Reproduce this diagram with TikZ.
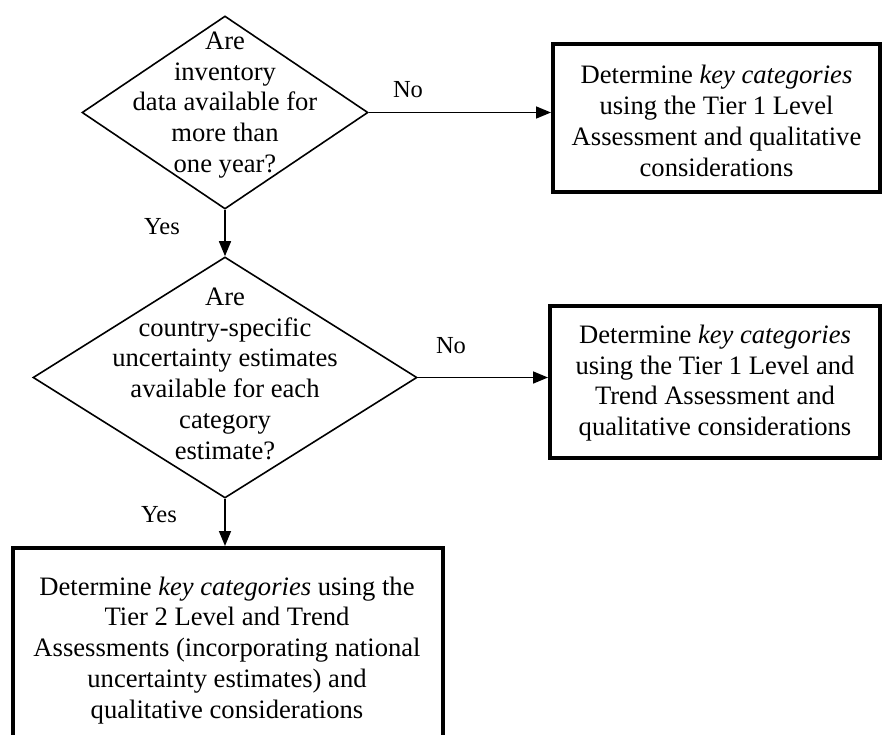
\documentclass[tikz,border=0pt]{standalone}
\usepackage{fontspec}
\setmainfont{Liberation Serif}
\usetikzlibrary{shapes.geometric,arrows.meta}
\begin{document}
\begin{tikzpicture}[x=1pt,y=-1pt,
  decision/.style={draw, diamond, line width=1.6pt, inner sep=0pt},
  qtext/.style={align=center, inner sep=0pt, anchor=north, font=\fontsize{26.6}{30.8}\selectfont},
  outbox/.style={draw, rectangle, line width=4pt, inner sep=0pt, align=center, font=\fontsize{26.6}{30.8}\selectfont},
  lbl/.style={anchor=base, inner sep=0pt, font=\fontsize{24.5}{28}\selectfont},
  arr/.style={line width=1.6pt, -{Triangle[length=15pt,width=12pt]}}]
\useasboundingbox (0,0) rectangle (883,734);
% decisions
\node[decision, minimum width=286pt, minimum height=193pt] (d1) at (225,112.5) {};
\node[qtext] (t1) at (225,31.6) {Are\\ inventory\\ data available for\\ more than\\ one year?};
\node[decision, minimum width=384pt, minimum height=241pt] (d2) at (225,377.5) {};
\node[qtext] (t2) at (225,287.6) {Are\\ country-specific\\ uncertainty estimates\\ available for each\\ category\\ estimate?};
% outcome boxes
\node[outbox, minimum width=327pt, minimum height=148pt] (b1) at (716.5,118) {};
\node[qtext, anchor=center] (t4) at (716.5,121)
  {Determine \textit{key categories}\\ using the Tier 1 Level\\ Assessment and qualitative\\ considerations};
\node[outbox, minimum width=330pt, minimum height=152pt] (b2) at (715,382) {};
\node[qtext, anchor=center] (t5) at (715,383)
  {Determine \textit{key categories}\\ using the Tier 1 Level and\\ Trend Assessment and\\ qualitative considerations};
\node[outbox, minimum width=430pt, minimum height=212pt] (b3) at (227.5,654) {};
\node[qtext] (t3) at (227,576.4) {Determine \textit{key categories} using the\\ Tier 2 Level and Trend\\ Assessments (incorporating national\\ uncertainty estimates) and\\ qualitative considerations};
% connectors
\draw[arr] (d1.east) -- (d1.east -| b1.west);
\draw[arr] (d1.south) -- (d2.north);
\draw[arr] (d2.east) -- (d2.east -| b2.west);
\draw[arr] (d2.south) -- (d2.south |- b3.north);
% labels
\node[lbl] (no1) at (408,97) {No};
\node[lbl] (no2) at (451,353) {No};
\node[lbl] (yes1) at (162,234) {Yes};
\node[lbl] (yes2) at (159,522.7) {Yes};
\end{tikzpicture}
\end{document}
